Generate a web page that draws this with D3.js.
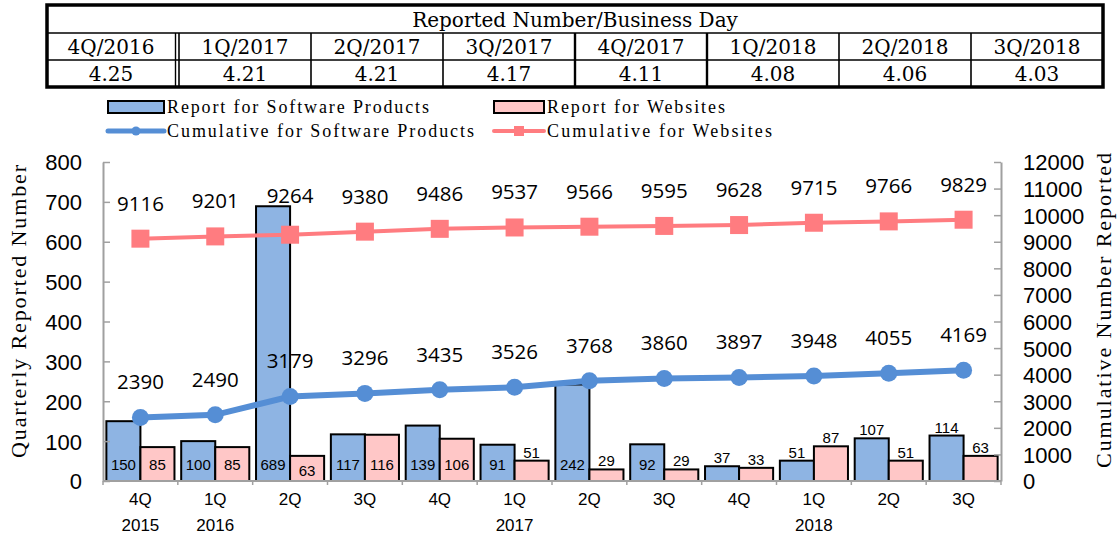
<!DOCTYPE html>
<html>
<head>
<meta charset="utf-8">
<script src="https://cdn.jsdelivr.net/npm/d3@7"></script>
<style>
	body { margin: 0; background: #fff; }
	svg { display: block; }
</style>
</head>
<body>
<div id="chart"></div>
<script>
// quarterly data, 4Q 2015 .. 3Q 2018
const quarters = ["4Q", "1Q", "2Q", "3Q", "4Q", "1Q", "2Q", "3Q", "4Q", "1Q", "2Q", "3Q"]
const years = ["2015", "2016", "", "", "", "2017", "", "", "", "2018", "", ""]
const softwareReports = [150, 100, 689, 117, 139, 91, 242, 92, 37, 51, 107, 114]
const websiteReports = [85, 85, 63, 116, 106, 51, 29, 29, 33, 87, 51, 63]
const softwareCumulative = [2390, 2490, 3179, 3296, 3435, 3526, 3768, 3860, 3897, 3948, 4055, 4169]
const websiteCumulative = [9116, 9201, 9264, 9380, 9486, 9537, 9566, 9595, 9628, 9715, 9766, 9829]

// table above the chart
const tableTitle = "Reported Number/Business Day"
const tableQuarters = ["4Q/2016", "1Q/2017", "2Q/2017", "3Q/2017", "4Q/2017", "1Q/2018", "2Q/2018", "3Q/2018"]
const tableRates = ["4.25", "4.21", "4.21", "4.17", "4.11", "4.08", "4.06", "4.03"]

const leftTicks = [0, 100, 200, 300, 400, 500, 600, 700, 800]
const rightTicks = [0, 1000, 2000, 3000, 4000, 5000, 6000, 7000, 8000, 9000, 10000, 11000, 12000]

const legendItems = ["Report for Software Products", "Report for Websites",
	"Cumulative for Software Products", "Cumulative for Websites"]

const W = 1119, H = 538
const plot = { left: 103, right: 1001, top: 162, bottom: 481 }
const BLUE = "#558ED5", BLUE_BAR = "#8EB4E3", PINK = "#FF7C80", PINK_BAR = "#FFC7C7"
const AXIS = "#A0A0A0"
const serif = "'Liberation Serif', 'Times New Roman', serif"
const sans = "'Liberation Sans', Arial, sans-serif"

const svg = d3.select("#chart").append("svg")
	.attr("width", W)
	.attr("height", H)

// ---- table ----
const drawTable = () => {
	const x0 = 47, x1 = 1103
	const rows = [5, 33, 60, 87]
	const col = d3.scaleBand().domain(d3.range(tableQuarters.length)).range([x0, x1])
	const g = svg.append("g").attr("font-family", "'DejaVu Serif', serif").attr("font-size", 20)

	// inner lines
	g.selectAll("line.h").data(rows.slice(1, 3)).join("line")
		.attr("x1", x0).attr("x2", x1).attr("y1", d => d).attr("y2", d => d)
		.attr("stroke", "#000").attr("stroke-width", 1.6)
	g.selectAll("line.v").data(d3.range(1, tableQuarters.length)).join("line")
		.attr("x1", d => col(d)).attr("x2", d => col(d))
		.attr("y1", rows[1]).attr("y2", rows[3])
		.attr("stroke", "#000").attr("stroke-width", d => d === 4 || d === 5 ? 2.4 : 1.6)
	// double line after first column
	g.append("line")
		.attr("x1", col(1) - 3.5).attr("x2", col(1) - 3.5)
		.attr("y1", rows[1]).attr("y2", rows[3])
		.attr("stroke", "#000").attr("stroke-width", 1.4)
	g.append("rect")
		.attr("x", x0).attr("y", rows[0]).attr("width", x1 - x0).attr("height", rows[3] - rows[0])
		.attr("fill", "none").attr("stroke", "#000").attr("stroke-width", 3.5)

	g.append("text")
		.attr("x", (x0 + x1) / 2).attr("y", 27)
		.attr("text-anchor", "middle")
		.text(tableTitle)
	g.selectAll("text.q").data(tableQuarters).join("text")
		.attr("class", "q")
		.attr("x", (d, i) => col(i) + col.bandwidth() / 2 - (i === 0 ? 2 : 0)).attr("y", 54)
		.attr("text-anchor", "middle")
		.text(d => d)
	g.selectAll("text.r").data(tableRates).join("text")
		.attr("class", "r")
		.attr("x", (d, i) => col(i) + col.bandwidth() / 2 - (i === 0 ? 2 : 0)).attr("y", 81)
		.attr("text-anchor", "middle")
		.text(d => d)
}

// ---- legend ----
const drawLegend = () => {
	const g = svg.append("g").attr("font-family", serif).attr("font-size", 18)
	const spots = [[108, 107], [494, 107], [108, 131], [494, 131]]
	const widths = [262, 178, 307, 225]
	legendItems.forEach((name, i) => {
		const [x, y] = spots[i]
		const w = i % 2 === 0 ? 56 : 50
		if (i < 2) {
			g.append("rect")
				.attr("x", x).attr("y", y - 6).attr("width", w).attr("height", 12)
				.attr("fill", i === 0 ? BLUE_BAR : PINK_BAR)
				.attr("stroke", "#000").attr("stroke-width", 2)
		} else if (i === 2) {
			g.append("line").attr("x1", x).attr("x2", x + w).attr("y1", y).attr("y2", y)
				.attr("stroke", BLUE).attr("stroke-width", 5).attr("stroke-linecap", "round")
			g.append("circle").attr("cx", x + w / 2).attr("cy", y).attr("r", 4.5).attr("fill", BLUE)
		} else {
			g.append("line").attr("x1", x).attr("x2", x + w).attr("y1", y).attr("y2", y)
				.attr("stroke", PINK).attr("stroke-width", 4).attr("stroke-linecap", "round")
			g.append("rect").attr("x", x + w / 2 - 5).attr("y", y - 5).attr("width", 10).attr("height", 10)
				.attr("fill", PINK)
		}
		g.append("text")
			.attr("x", x + w + 3).attr("y", y + 6)
			.attr("textLength", widths[i]).attr("lengthAdjust", "spacing")
			.text(name)
	})
}

// ---- chart ----
const drawChart = () => {
	const x = d3.scaleBand()
		.domain(d3.range(quarters.length))
		.range([plot.left, plot.right])
		.paddingInner(0.09)
		.paddingOuter(0.045)
	const sub = d3.scaleBand().domain(["sw", "web"]).range([0, x.bandwidth()])
	const yL = d3.scaleLinear().domain([0, 800]).range([plot.bottom, plot.top])
	const yR = d3.scaleLinear().domain([0, 12000]).range([plot.bottom, plot.top])
	const cx = i => x(i) + x.bandwidth() / 2

	const bars = [
		{ key: "sw", values: softwareReports, fill: BLUE_BAR, insideCount: 8 },
		{ key: "web", values: websiteReports, fill: PINK_BAR, insideCount: 5 }
	]

	// bars
	bars.forEach(s => {
		svg.append("g").selectAll("rect").data(s.values).join("rect")
			.attr("x", (d, i) => x(i) + sub(s.key))
			.attr("y", d => yL(d))
			.attr("width", sub.bandwidth())
			.attr("height", d => yL(0) - yL(d))
			.attr("fill", s.fill)
			.attr("stroke", "#000")
			.attr("stroke-width", 2)
	})

	// axes
	const left = svg.append("g")
		.attr("transform", `translate(${plot.left},0)`)
		.call(d3.axisLeft(yL).tickValues(leftTicks).tickSizeInner(-7).tickSizeOuter(0).tickPadding(21)
			.tickFormat(d3.format("d")))
	const right = svg.append("g")
		.attr("transform", `translate(${plot.right},0)`)
		.call(d3.axisRight(yR).tickValues(rightTicks).tickSizeInner(-7).tickSizeOuter(0).tickPadding(22)
			.tickFormat(d3.format("d")))
	;[left, right].forEach(a => {
		a.select(".domain").attr("stroke", AXIS).attr("stroke-width", 2)
		a.selectAll(".tick line").attr("stroke", AXIS).attr("stroke-width", 1.5)
		a.selectAll(".tick text").attr("font-family", sans).attr("font-size", 22).attr("fill", "#000")
			.attr("dy", "0.36em")
	})
	svg.append("line")
		.attr("x1", plot.left).attr("x2", plot.right)
		.attr("y1", plot.bottom).attr("y2", plot.bottom)
		.attr("stroke", AXIS).attr("stroke-width", 2)
	svg.append("g").selectAll("line").data(d3.range(quarters.length + 1)).join("line")
		.attr("x1", i => plot.left + i * x.step()).attr("x2", i => plot.left + i * x.step())
		.attr("y1", plot.bottom).attr("y2", plot.bottom + 4)
		.attr("stroke", AXIS).attr("stroke-width", 1.5)

	// bar labels
	bars.forEach(s => {
		svg.append("g").selectAll("text").data(s.values).join("text")
			.attr("font-family", sans).attr("font-size", 15)
			.attr("text-anchor", "middle")
			.attr("x", (d, i) => x(i) + sub(s.key) + sub.bandwidth() / 2)
			.attr("y", (d, i) => i < s.insideCount ? Math.max(470, yL(d) + 20) : yL(d) - 3)
			.text(d => d)
	})

	// cumulative lines
	const line = d3.line().x((d, i) => cx(i)).y(d => yR(d))
	svg.append("path").datum(websiteCumulative)
		.attr("d", line).attr("fill", "none").attr("stroke", PINK).attr("stroke-width", 4)
	svg.append("g").selectAll("rect").data(websiteCumulative).join("rect")
		.attr("x", (d, i) => cx(i) - 9).attr("y", d => yR(d) - 9)
		.attr("width", 18).attr("height", 18).attr("fill", PINK)
	svg.append("path").datum(softwareCumulative)
		.attr("d", line).attr("fill", "none").attr("stroke", BLUE).attr("stroke-width", 6)
	svg.append("g").selectAll("circle").data(softwareCumulative).join("circle")
		.attr("cx", (d, i) => cx(i)).attr("cy", d => yR(d)).attr("r", 8.5).attr("fill", BLUE)

	// cumulative labels; website labels keep clear of tall bars
	const cumLabels = (values, avoidBars) => {
		svg.append("g").selectAll("text").data(values).join("text")
			.attr("font-family", "'Open Sans', sans-serif").attr("font-size", 20.5)
			.attr("text-anchor", "middle")
			.attr("x", (d, i) => cx(i))
			.attr("y", (d, i) => {
				const c = yR(d) - 35
				return (avoidBars ? Math.min(c, yL(softwareReports[i]) - 10) : c) + 7
			})
			.text(d => d)
	}
	cumLabels(websiteCumulative, true)
	cumLabels(softwareCumulative, false)

	// category labels
	const cat = svg.append("g").attr("font-family", sans).attr("font-size", 17).attr("text-anchor", "middle")
	cat.selectAll("text.q").data(quarters).join("text")
		.attr("x", (d, i) => cx(i)).attr("y", 505).text(d => d)
	cat.selectAll("text.y").data(years).join("text")
		.attr("x", (d, i) => cx(i)).attr("y", 531).text(d => d)

	// axis titles
	svg.append("text")
		.attr("font-family", serif).attr("font-size", 22)
		.attr("transform", `translate(26, ${(165 + 458) / 2}) rotate(-90)`)
		.attr("text-anchor", "middle")
		.attr("textLength", 293).attr("lengthAdjust", "spacing")
		.text("Quarterly Reported Number")
	svg.append("text")
		.attr("font-family", serif).attr("font-size", 22)
		.attr("transform", `translate(1111, ${(153 + 468) / 2}) rotate(-90)`)
		.attr("text-anchor", "middle")
		.attr("textLength", 315).attr("lengthAdjust", "spacing")
		.text("Cumulative Number Reported")
}

drawTable()
drawLegend()
drawChart()
</script>
</body>
</html>
